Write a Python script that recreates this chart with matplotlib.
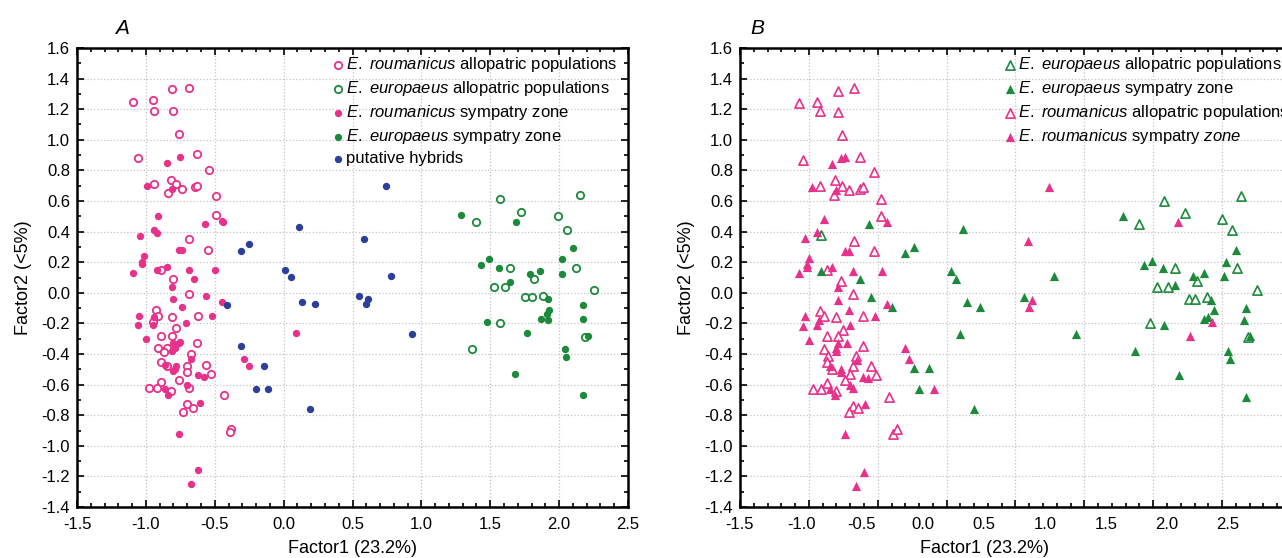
import matplotlib.pyplot as plt
from matplotlib.ticker import MultipleLocator, FuncFormatter
import numpy as np

plt.rcParams['font.family'] = ['Liberation Sans', 'DejaVu Sans']
plt.rcParams['mathtext.fontset'] = 'custom'
plt.rcParams['mathtext.rm'] = 'Liberation Sans'
plt.rcParams['mathtext.it'] = 'Liberation Sans:italic'
plt.rcParams['axes.unicode_minus'] = False

PINK = '#e8318b'
GREEN = '#1c8a3b'
BLUE = '#2d3f9b'

# ---- panel A: groups by collection site / hybrid status ----
rou_allo_a = np.array([
    (-0.81, 1.33), (-0.69, 1.34), (-1.09, 1.25), (-0.95, 1.26), (-0.94, 1.19),
    (-0.80, 1.19), (-0.76, 1.04), (-1.06, 0.88), (-0.63, 0.91), (-0.54, 0.80),
    (-0.94, 0.71), (-0.82, 0.74), (-0.78, 0.71), (-0.74, 0.68), (-0.84, 0.65),
    (-0.64, 0.69), (-0.63, 0.70), (-0.49, 0.63), (-0.49, 0.51), (-0.69, 0.35),
    (-0.55, 0.28), (-0.80, 0.09), (-0.89, 0.15), (-0.69, -0.01), (-0.93, -0.11),
    (-0.91, -0.15), (-0.95, -0.19), (-0.81, -0.16), (-0.62, -0.15), (-0.78, -0.23),
    (-0.89, -0.28), (-0.81, -0.28), (-0.63, -0.33), (-0.91, -0.36), (-0.85, -0.36),
    (-0.87, -0.39), (-0.67, -0.40), (-0.89, -0.45), (-0.85, -0.48), (-0.70, -0.48),
    (-0.70, -0.52), (-0.56, -0.47), (-0.53, -0.53), (-0.76, -0.57), (-0.89, -0.58),
    (-0.82, -0.64), (-0.98, -0.62), (-0.92, -0.62), (-0.69, -0.62), (-0.70, -0.73),
    (-0.66, -0.75), (-0.73, -0.78), (-0.43, -0.67), (-0.38, -0.89), (-0.39, -0.91),
])
eur_allo_a = np.array([
    (1.57, 0.61), (2.15, 0.64), (1.40, 0.46), (1.72, 0.53), (1.99, 0.50),
    (2.06, 0.41), (1.64, 0.16), (2.12, 0.16), (1.82, 0.09), (1.53, 0.04),
    (1.61, 0.04), (2.25, 0.02), (1.75, -0.03), (1.80, -0.03), (1.88, -0.02),
    (1.57, -0.20), (2.19, -0.29), (1.37, -0.37),
])
rou_symp_a = np.array([
    (-0.75, 0.89), (-0.85, 0.85), (-0.99, 0.70), (-0.81, 0.68), (-0.91, 0.50),
    (-0.57, 0.45), (-0.45, 0.47), (-0.44, 0.46), (-0.94, 0.41), (-0.92, 0.39),
    (-1.04, 0.37), (-0.76, 0.28), (-0.74, 0.28), (-1.01, 0.24), (-1.03, 0.20),
    (-1.03, 0.19), (-1.09, 0.13), (-0.92, 0.15), (-0.85, 0.17), (-0.69, 0.15),
    (-0.50, 0.15), (-0.65, 0.09), (-0.81, 0.04), (-0.56, -0.02), (-0.45, -0.06),
    (-0.80, -0.04), (-1.05, -0.15), (-0.94, -0.16), (-0.95, -0.21), (-1.06, -0.21),
    (-0.74, -0.09), (-0.52, -0.15), (-0.71, -0.20), (-1.00, -0.30), (-0.80, -0.33),
    (-0.76, -0.33), (-0.75, -0.32), (-0.79, -0.36), (-0.81, -0.38), (-0.67, -0.43),
    (-0.86, -0.47), (-0.78, -0.48), (-0.79, -0.50), (-0.80, -0.51), (-0.62, -0.54),
    (-0.58, -0.55), (-0.86, -0.63), (-0.84, -0.67), (-0.70, -0.60), (-0.61, -0.72),
    (-0.76, -0.92), (-0.62, -1.16), (-0.67, -1.25), (-0.29, -0.43), (-0.25, -0.48),
    (0.09, -0.26),
])
eur_symp_a = np.array([
    (1.29, 0.51), (1.69, 0.46), (2.10, 0.29), (2.02, 0.22), (1.49, 0.22),
    (1.43, 0.18), (1.56, 0.16), (1.86, 0.14), (1.79, 0.12), (2.02, 0.12),
    (1.64, 0.07), (1.92, -0.04), (2.17, -0.08), (1.93, -0.11), (1.91, -0.14),
    (1.87, -0.17), (1.92, -0.18), (2.17, -0.17), (1.48, -0.19), (1.77, -0.26),
    (2.21, -0.28), (2.04, -0.37), (2.05, -0.42), (1.68, -0.53), (2.17, -0.67),
])
hybrids_a = np.array([
    (0.74, 0.70), (0.11, 0.43), (0.58, 0.35), (-0.31, 0.27), (-0.25, 0.32),
    (0.01, 0.15), (0.05, 0.10), (0.78, 0.11), (0.55, -0.02), (0.61, -0.04),
    (0.60, -0.07), (0.13, -0.06), (0.23, -0.07), (-0.41, -0.08), (0.93, -0.27),
    (-0.31, -0.35), (-0.14, -0.48), (-0.20, -0.63), (-0.11, -0.63), (0.19, -0.76),
])

# ---- panel B: groups by species assignment ----
eur_allo_b = np.array([
    (1.58, 0.60), (2.14, 0.63), (1.40, 0.45), (1.73, 0.52), (2.00, 0.48),
    (2.07, 0.41), (1.66, 0.16), (2.11, 0.16), (1.82, 0.08), (1.53, 0.04),
    (1.61, 0.04), (2.25, 0.02), (1.76, -0.04), (1.80, -0.04), (1.89, -0.03),
    (1.48, -0.20), (2.19, -0.29), (-0.91, 0.38),
])
eur_symp_b = np.array([
    (-0.56, 0.45), (0.12, 0.42), (-0.24, 0.30), (-0.30, 0.26), (-0.91, 0.14),
    (0.03, 0.14), (0.07, 0.09), (-0.63, 0.09), (-0.55, -0.03), (-0.40, -0.09),
    (0.15, -0.06), (0.24, -0.09), (0.56, -0.03), (0.78, 0.11), (0.10, -0.27),
    (0.94, -0.27), (-0.24, -0.49), (-0.13, -0.49), (-0.20, -0.63), (0.20, -0.76),
    (1.28, 0.50), (2.10, 0.28), (1.49, 0.21), (1.43, 0.18), (2.03, 0.20),
    (1.57, 0.16), (1.87, 0.13), (2.01, 0.11), (1.79, 0.11), (1.66, 0.05),
    (1.92, -0.05), (2.17, -0.10), (1.94, -0.11), (1.87, -0.17), (1.90, -0.16),
    (2.16, -0.18), (1.58, -0.21), (2.20, -0.28), (1.37, -0.38), (2.04, -0.38),
    (2.06, -0.43), (1.69, -0.54), (2.17, -0.68),
])
rou_allo_b = np.array([
    (-0.79, 1.32), (-0.67, 1.34), (-1.07, 1.24), (-0.94, 1.25), (-0.92, 1.19),
    (-0.79, 1.18), (-0.76, 1.03), (-1.04, 0.87), (-0.63, 0.89), (-0.53, 0.79),
    (-0.92, 0.70), (-0.81, 0.74), (-0.76, 0.70), (-0.71, 0.67), (-0.82, 0.64),
    (-0.63, 0.68), (-0.61, 0.69), (-0.48, 0.61), (-0.48, 0.50), (-0.67, 0.34),
    (-0.53, 0.27), (-0.77, 0.08), (-0.87, 0.15), (-0.68, -0.01), (-0.92, -0.12),
    (-0.89, -0.15), (-0.80, -0.16), (-0.61, -0.15), (-0.75, -0.24), (-0.87, -0.28),
    (-0.79, -0.28), (-0.61, -0.35), (-0.89, -0.37), (-0.86, -0.41), (-0.66, -0.41),
    (-0.87, -0.45), (-0.83, -0.50), (-0.68, -0.48), (-0.55, -0.48), (-0.70, -0.53),
    (-0.51, -0.54), (-0.74, -0.57), (-0.97, -0.63), (-0.91, -0.63), (-0.87, -0.59),
    (-0.80, -0.64), (-0.42, -0.68), (-0.68, -0.74), (-0.64, -0.75), (-0.71, -0.78),
    (-0.39, -0.92), (-0.36, -0.89),
])
rou_symp_b = np.array([
    (-0.74, 0.89), (-0.77, 0.88), (-0.83, 0.84), (-0.98, 0.69), (-0.80, 0.67),
    (-0.89, 0.48), (-0.43, 0.46), (-1.03, 0.36), (-0.94, 0.40), (-0.74, 0.27),
    (-0.71, 0.27), (-1.00, 0.23), (-1.01, 0.19), (-1.01, 0.17), (-1.07, 0.13),
    (-0.83, 0.17), (-0.68, 0.14), (-0.47, 0.14), (-0.79, 0.04), (-0.79, -0.05),
    (-0.43, -0.07), (-0.71, -0.11), (-1.03, -0.15), (-0.93, -0.18), (-0.94, -0.21),
    (-0.52, -0.15), (-1.04, -0.22), (-0.70, -0.21), (-1.00, -0.31), (-0.79, -0.33),
    (-0.72, -0.33), (-0.80, -0.36), (-0.80, -0.38), (-0.65, -0.44), (-0.85, -0.48),
    (-0.77, -0.50), (-0.77, -0.52), (-0.61, -0.55), (-0.57, -0.56), (-0.85, -0.63),
    (-0.81, -0.67), (-0.70, -0.60), (-0.68, -0.62), (-0.59, -0.73), (-0.74, -0.92),
    (-0.60, -1.17), (-0.66, -1.26), (-0.30, -0.36), (-0.27, -0.43), (-0.09, -0.63),
    (0.74, 0.69), (0.59, 0.34), (0.62, -0.05), (0.60, -0.09), (1.68, 0.46),
    (1.93, -0.19), (1.77, -0.28),
])

ROU = r'$\it{E.}$ $\it{roumanicus}$'
EUR = r'$\it{E.}$ $\it{europaeus}$'


def fmt(v, pos):
    s = f'{v:.1f}'
    return '0.0' if s == '-0.0' else s


def style_axes(ax):
    ax.set_xlim(-1.5, 2.5)
    ax.set_ylim(-1.4, 1.6)
    ax.xaxis.set_major_locator(MultipleLocator(0.5))
    ax.xaxis.set_minor_locator(MultipleLocator(0.1))
    ax.yaxis.set_major_locator(MultipleLocator(0.2))
    ax.yaxis.set_minor_locator(MultipleLocator(0.1))
    ax.xaxis.set_major_formatter(FuncFormatter(fmt))
    ax.yaxis.set_major_formatter(FuncFormatter(fmt))
    ax.grid(True, which='major', linestyle=':', color='#c4c4c4', linewidth=0.9)
    ax.set_axisbelow(True)
    ax.tick_params(which='both', direction='in', top=True, right=True,
                   labelsize=12, width=1.2)
    ax.tick_params(axis='x', pad=7)
    ax.tick_params(axis='y', pad=5)
    ax.tick_params(which='major', length=5)
    ax.tick_params(which='minor', length=3)
    for sp in ax.spines.values():
        sp.set_linewidth(1.8)
    ax.set_ylabel('Factor2 (<5%)', fontsize=13, labelpad=7)


fig = plt.figure(figsize=(12.82, 5.58), dpi=100)
W, H = 1282, 558
ax_a = fig.add_axes([77 / W, 1 - 507 / H, 551 / W, 459 / H])
ax_b = fig.add_axes([740 / W, 1 - 507 / H, 551 / W, 459 / H])
# the B scale labels sit on a narrower strip than the stretched plot area
ax_bl = fig.add_axes([740 / W, 1 - 507 / H, 488 / W, 459 / H], facecolor='none')

# panel A - circles
sz = 28
ax_a.scatter(rou_allo_a[:, 0], rou_allo_a[:, 1], s=sz, facecolors='white',
             edgecolors=PINK, linewidths=1.3, zorder=3,
             label=ROU + ' allopatric populations')
ax_a.scatter(eur_allo_a[:, 0], eur_allo_a[:, 1], s=sz, facecolors='white',
             edgecolors=GREEN, linewidths=1.3, zorder=3,
             label=EUR + ' allopatric populations')
ax_a.scatter(rou_symp_a[:, 0], rou_symp_a[:, 1], s=sz, color=PINK,
             linewidths=0, zorder=4, label=ROU + ' sympatry zone')
ax_a.scatter(eur_symp_a[:, 0], eur_symp_a[:, 1], s=sz, color=GREEN,
             linewidths=0, zorder=4, label=EUR + ' sympatry zone')
ax_a.scatter(hybrids_a[:, 0], hybrids_a[:, 1], s=sz, color=BLUE,
             linewidths=0, zorder=5, label='putative hybrids')

# panel B - triangles
st = 44
ax_b.scatter(eur_allo_b[:, 0], eur_allo_b[:, 1], s=st, marker='^', facecolors='white',
             edgecolors=GREEN, linewidths=1.2, zorder=3,
             label=EUR + ' allopatric populations')
ax_b.scatter(eur_symp_b[:, 0], eur_symp_b[:, 1], s=st, marker='^', color=GREEN,
             linewidths=0, zorder=4, label=EUR + ' sympatry zone')
ax_b.scatter(rou_allo_b[:, 0], rou_allo_b[:, 1], s=st, marker='^', facecolors='white',
             edgecolors=PINK, linewidths=1.2, zorder=3,
             label=ROU + ' allopatric populations')
ax_b.scatter(rou_symp_b[:, 0], rou_symp_b[:, 1], s=st, marker='^', color=PINK,
             linewidths=0, zorder=4, label=ROU + r' sympatry $\it{zone}$')

for ax in (ax_a, ax_b):
    style_axes(ax)
ax_a.set_xlabel('Factor1 (23.2%)', fontsize=13, labelpad=6)
ax_b.tick_params(axis='x', labelbottom=False)

# label strip for panel B
ax_bl.set_xlim(-1.5, 2.5)
ax_bl.xaxis.set_major_locator(MultipleLocator(0.5))
ax_bl.xaxis.set_major_formatter(FuncFormatter(fmt))
ax_bl.tick_params(axis='x', length=0, labelsize=12, pad=7)
ax_bl.tick_params(axis='y', left=False, labelleft=False)
for sp in ax_bl.spines.values():
    sp.set_visible(False)
ax_bl.set_xlabel('Factor1 (23.2%)', fontsize=13, labelpad=6)

leg_kw = dict(loc='upper left', frameon=False, fontsize=12, handletextpad=0.05,
              handlelength=0.8, labelspacing=0.3, borderaxespad=0, borderpad=0)
ax_a.legend(bbox_to_anchor=(0.462, 0.985), **leg_kw)
ax_b.legend(bbox_to_anchor=(0.478, 0.985), **leg_kw)

fig.text(122 / W, 1 - 28 / H, 'A', fontsize=15, style='italic', ha='center', va='center')
fig.text(757 / W, 1 - 28 / H, 'B', fontsize=15, style='italic', ha='center', va='center')

fig.savefig('out.png', dpi=100)
